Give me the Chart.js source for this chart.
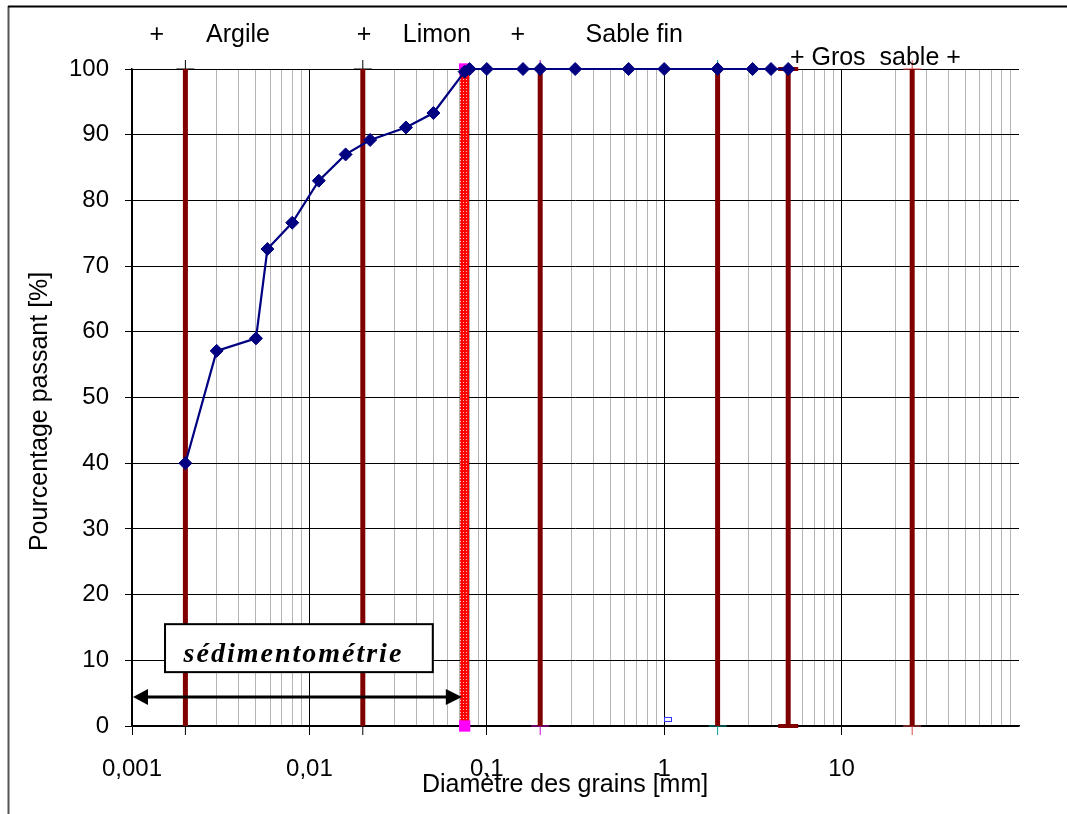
<!DOCTYPE html>
<html><head><meta charset="utf-8">
<script src="https://cdn.jsdelivr.net/npm/chart.js@4.4.1/dist/chart.umd.min.js"></script>
<style>html,body{margin:0;padding:0;background:#fff}#wrap{position:relative;width:1067px;height:814px}</style>
</head><body><div id="wrap"><canvas id="c"></canvas></div>
<script>
// ---- data ----
const diameters = [0.002, 0.003, 0.005, 0.0058, 0.008, 0.0113, 0.016, 0.022, 0.035, 0.05, 0.075, 0.08, 0.1, 0.16, 0.2, 0.315, 0.63, 1, 2, 3.15, 4, 5];
const passing   = [40, 57.1, 59, 72.6, 76.6, 83, 87, 89.2, 91.1, 93.3, 99.6, 100, 100, 100, 100, 100, 100, 100, 100, 100, 100, 100];
const limitDiameters = [0.002, 0.02, 0.2, 2, 25];
const limitMarkerColors = ['#000000', '#000000', '#cc00cc', '#00a0a0', '#e04848'];
const gravelLimit = 5;
const sieveDiameter = 0.075;
const oddPoint = [1.05, 1];
const decades = [0.001, 0.01, 0.1, 1, 10, 100];
const decadeLabels = ['0,001', '0,01', '0,1', '1', '10', ''];
const zoneLabels = ['+', 'Argile', '+', 'Limon', '+', 'Sable fin', '+ Gros  sable +'];
const zoneLabelX = [0.00138, 0.00396, 0.0203, 0.0523, 0.1495, 0.678, 15.5];
const zoneLabelRaise = [34, 34, 34, 34, 34, 34, 11];
const sedimentRange = [0.001, 0.0723];
const sedimentArrowY = 4.4;
const sedimentBox = {x0: 0.001535, x1: 0.0496, y0: 8.2, y1: 15.5, textX: 0.00813, textY: 9.8};
const sedimentLabel = 'sédimentométrie';

// ---- helpers ----
function dotPattern() {
  const c = document.createElement('canvas'); c.width = 3; c.height = 3;
  const g = c.getContext('2d');
  g.fillStyle = '#ff0000'; g.fillRect(0, 0, 3, 3);
  g.fillStyle = '#ffc0c0'; g.fillRect(1, 1, 1, 1);
  return g.createPattern(c, 'repeat');
}
function smallRect() {
  const c = document.createElement('canvas'); c.width = 8; c.height = 5;
  const g = c.getContext('2d');
  g.strokeStyle = '#3030ff'; g.lineWidth = 1; g.strokeRect(0.5, 0.5, 7, 4);
  return c;
}
const xTickValues = [];
decades.forEach((d, i) => {
  if (i === decades.length - 1) { xTickValues.push(d); return; }
  for (let m = 1; m <= 9; m++) xTickValues.push(Number((m * d).toPrecision(4)));
});
const isDecade = v => decades.some(d => Math.abs(v / d - 1) < 1e-6);

const datasets = [];
datasets.push({
  data: diameters.map((d, i) => ({x: d, y: passing[i]})),
  showLine: true, borderColor: '#000080', borderWidth: 2.2,
  pointStyle: 'rectRot', pointRadius: 6.5, pointBackgroundColor: '#000080',
  pointBorderColor: '#000080', pointBorderWidth: 1, order: 0, clip: false
});
limitDiameters.forEach((d, i) => {
  datasets.push({
    data: [{x: d, y: 0}, {x: d, y: 100}], showLine: true,
    borderColor: '#800000', borderWidth: 5, pointRadius: 0, order: 3, clip: false
  });
  datasets.push({
    data: [{x: d, y: 0}, {x: d, y: 100}], showLine: false,
    pointStyle: 'cross', pointRadius: 9, pointBorderColor: limitMarkerColors[i],
    pointBorderWidth: 1, order: 4, clip: false
  });
});
datasets.push({
  data: [{x: gravelLimit, y: 0}, {x: gravelLimit, y: 100}], showLine: true,
  borderColor: '#800000', borderWidth: 5, pointStyle: 'line', pointRadius: 10,
  pointBorderColor: '#800000', pointBorderWidth: 4, order: 2, clip: false
});
datasets.push({
  data: [{x: sieveDiameter, y: 0}, {x: sieveDiameter, y: 100}], showLine: true,
  borderColor: dotPattern(), borderWidth: 9, pointStyle: 'rect', pointRadius: 8,
  pointBackgroundColor: '#ff00ff', pointBorderColor: '#ff00ff', pointBorderWidth: 0, order: 1, clip: false
});
datasets.push({
  data: [{x: oddPoint[0], y: oddPoint[1]}], showLine: false,
  pointStyle: smallRect(), pointRadius: 4, order: 1, clip: false
});

const annotPlugin = {
  id: 'annot',
  beforeDraw(chart) {
    const ctx = chart.ctx;
    ctx.save();
    ctx.strokeStyle = '#555'; ctx.lineWidth = 2;
    ctx.beginPath(); ctx.moveTo(8.5, 814); ctx.lineTo(8.5, 6); ctx.stroke();
    ctx.strokeStyle = '#000';
    ctx.beginPath(); ctx.moveTo(8, 6.5); ctx.lineTo(1067, 6.5); ctx.stroke();
    ctx.restore();
  },
  afterDatasetsDraw(chart) {
    const {ctx, scales: {x, y}, chartArea} = chart;
    ctx.save();
    // sedimentometry box
    const bx0 = x.getPixelForValue(sedimentBox.x0), bx1 = x.getPixelForValue(sedimentBox.x1);
    const by0 = y.getPixelForValue(sedimentBox.y1), by1 = y.getPixelForValue(sedimentBox.y0);
    ctx.fillStyle = '#fff'; ctx.fillRect(bx0, by0, bx1 - bx0, by1 - by0);
    ctx.strokeStyle = '#000'; ctx.lineWidth = 2; ctx.strokeRect(bx0, by0, bx1 - bx0, by1 - by0);
    ctx.fillStyle = '#000';
    ctx.font = 'italic bold 28px "Liberation Serif", "Times New Roman", serif';
    try { ctx.letterSpacing = '2px'; } catch (e) {}
    ctx.textAlign = 'center'; ctx.textBaseline = 'alphabetic';
    ctx.fillText(sedimentLabel, x.getPixelForValue(sedimentBox.textX), y.getPixelForValue(sedimentBox.textY));
    try { ctx.letterSpacing = '0px'; } catch (e) {}
    // double arrow
    const ax0 = x.getPixelForValue(sedimentRange[0]), ax1 = x.getPixelForValue(sedimentRange[1]);
    const ay = y.getPixelForValue(sedimentArrowY);
    ctx.lineWidth = 3; ctx.strokeStyle = '#000';
    ctx.beginPath(); ctx.moveTo(ax0 + 10, ay); ctx.lineTo(ax1 - 10, ay); ctx.stroke();
    ctx.beginPath(); ctx.moveTo(ax0 + 1, ay); ctx.lineTo(ax0 + 16, ay - 8); ctx.lineTo(ax0 + 16, ay + 8); ctx.closePath(); ctx.fill();
    ctx.beginPath(); ctx.moveTo(ax1, ay); ctx.lineTo(ax1 - 16, ay - 8); ctx.lineTo(ax1 - 16, ay + 8); ctx.closePath(); ctx.fill();
    // zone labels
    ctx.font = '25px "Liberation Sans", Arial, sans-serif';
    ctx.textAlign = 'center'; ctx.textBaseline = 'middle';
    zoneLabels.forEach((t, i) => {
      ctx.fillText(t, x.getPixelForValue(zoneLabelX[i]), chartArea.top - zoneLabelRaise[i]);
    });
    ctx.restore();
  }
};

new Chart(document.getElementById('c'), {
  type: 'scatter',
  data: {datasets},
  options: {
    responsive: true, maintainAspectRatio: false, animation: false, events: [],
    layout: {padding: {top: 69, right: 48, left: 0, bottom: 0}},
    plugins: {legend: {display: false}, tooltip: {enabled: false}},
    scales: {
      x: {
        type: 'logarithmic', min: 0.001, max: 100,
        afterBuildTicks: s => { s.ticks = xTickValues.map(v => ({value: v, major: isDecade(v)})); },
        afterFit: s => { s.height = 88; },
        ticks: {
          autoSkip: false, maxRotation: 0, minRotation: 0, padding: 20, color: '#000',
          font: {family: '"Liberation Sans", Arial, sans-serif', size: 24},
          callback: v => { const i = decades.findIndex(d => Math.abs(v / d - 1) < 1e-6); return i >= 0 ? decadeLabels[i] : ''; }
        },
        grid: {
          color: c => { const v = c.tick ? c.tick.value : 0; if (v >= 99) return 'rgba(0,0,0,0)'; return isDecade(v) ? '#000' : '#b4b4b4'; },
          tickColor: c => (c.tick && isDecade(c.tick.value) && c.tick.value < 99) ? '#000' : 'rgba(0,0,0,0)',
          tickLength: 9, lineWidth: 1
        },
        border: {display: true, color: '#000', width: 1.5},
        title: {display: true, text: 'Diamètre des grains [mm]   ', color: '#000',
          font: {family: '"Liberation Sans", Arial, sans-serif', size: 25}, padding: {top: 0, bottom: 14}}
      },
      y: {
        min: 0, max: 100,
        afterFit: s => { s.width = 132; },
        ticks: {stepSize: 10, padding: 16, color: '#000',
          font: {family: '"Liberation Sans", Arial, sans-serif', size: 24}},
        grid: {color: '#000', tickColor: '#000', tickLength: 7, lineWidth: 1},
        border: {display: true, color: '#000', width: 1.5},
        title: {display: true, text: 'Pourcentage passant [%]    ', color: '#000',
          font: {family: '"Liberation Sans", Arial, sans-serif', size: 25}, padding: {top: 25, bottom: 0}}
      }
    }
  },
  plugins: [annotPlugin]
});
</script></body></html>
